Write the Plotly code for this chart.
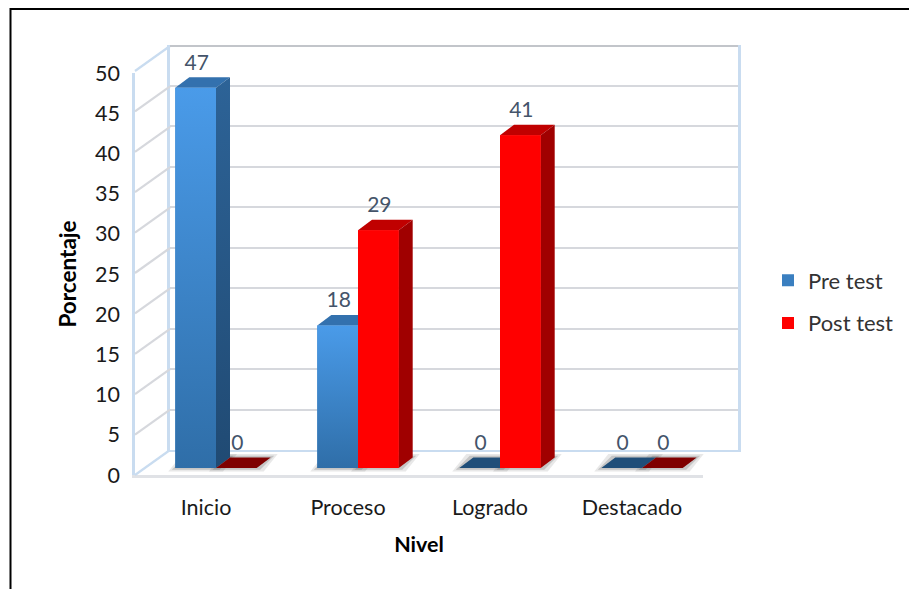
import plotly.graph_objects as go

categories = ["Inicio", "Proceso", "Logrado", "Destacado"]
pre_test = [47.06, 17.65, 0, 0]
post_test = [0, 29.41, 41.18, 0]
series_names = ["Pre test", "Post test"]
y_ticks = list(range(0, 55, 5))

W, H = 909, 589
FONT = "Lato"
TXT = "#1a1a1a"
LBL = "#44546a"
WALL = "#c9dcf0"
GRID = "#d6d8dd"

PX_X = 142.0   # px per category
PX_Y = 8.08    # px per value unit
GROUP0 = 216.0
BASE = 468.0
BAR_W = 40.7 / PX_X
DX, DY = 14 / PX_X, 10.5 / PX_Y


def dx(px0, px1):
    return [px0 / W, px1 / W]


def dy(px_bottom, px_top):
    return [1 - px_bottom / H, 1 - px_top / H]


fig = go.Figure()

# invisible carriers so that the wall and front axes are drawn
for xa, ya in (("x", "y"), ("x2", "y2")):
    fig.add_trace(go.Scatter(x=[None], y=[None], mode="markers", xaxis=xa, yaxis=ya,
                             showlegend=False, hoverinfo="skip"))


def poly(xs, ys, color=None, grad=None):
    t = dict(x=xs, y=ys, mode="lines", fill="toself", line=dict(width=0),
             xaxis="x3", yaxis="y3", showlegend=False, hoverinfo="skip")
    if grad:
        t["fillgradient"] = dict(type="vertical", colorscale=[[0, grad[0]], [1, grad[1]]])
        t["fillcolor"] = grad[1]
    else:
        t["fillcolor"] = color
    fig.add_trace(go.Scatter(**t))


# native bars (carry data and legend)
fig.add_trace(go.Bar(x=[0, 1, 2, 3], y=pre_test, name=series_names[0], marker_color="#3a7fc0",
                     marker_line_width=0, xaxis="x3", yaxis="y3", legendgroup="a",
                     hovertemplate="%{y}<extra>Pre test</extra>"))
fig.add_trace(go.Bar(x=[0, 1, 2, 3], y=post_test, name=series_names[1], marker_color="#ff0000",
                     marker_line_width=0, xaxis="x3", yaxis="y3", legendgroup="b",
                     hovertemplate="%{y}<extra>Post test</extra>"))

# side wall lines, from the front axis to the back wall
wall_x0, wall_x1 = -0.5 - 10 / PX_X, -0.5 + 25 / PX_X
for v in y_ticks:
    fig.add_trace(go.Scatter(x=[wall_x0, wall_x1], y=[v - 7 / PX_Y, v + 18 / PX_Y], mode="lines",
                             line=dict(color=WALL if v in (0, 50) else GRID, width=2.2),
                             xaxis="x3", yaxis="y3", showlegend=False, hoverinfo="skip"))

# top edge of the back wall
fig.add_trace(go.Scatter(x=[wall_x1, wall_x1 + len(categories)], y=[y_ticks[-1] + 18 / PX_Y] * 2, mode="lines",
                         line=dict(color="#c2c5ca", width=2.2),
                         xaxis="x3", yaxis="y3", showlegend=False, hoverinfo="skip"))

# floor shadows
for i in range(len(categories)):
    for off, v in ((-BAR_W, pre_test[i]), (0, post_test[i])):
        for grow, alpha in ((7, 0.14), (3.5, 0.25)):
            g = grow / PX_X
            gy = grow / PX_Y * 0.5
            x0, x1 = i + off - g, i + off + BAR_W + g
            poly([x0, x1, x1 + DX, x0 + DX, x0],
                 [-gy, -gy, DY + gy, DY + gy, -gy], f"rgba(90,90,90,{alpha})")

# 3D faces, computed from the values
for off, vals, top, zero, side, front in (
    (-BAR_W, pre_test, "#3371ae", "#1f4e79", ("#204a73", "#2d6397"), ("#2f6ea8", "#4a9be9")),
    (0, post_test, "#c00000", "#7f0000", ("#a00000", "#a00000"), ("#ff0000", "#ff0000")),
):
    for i, v in enumerate(vals):
        x0, x1 = i + off, i + off + BAR_W
        poly([x0, x1, x1 + DX, x0 + DX, x0], [v, v, v + DY, v + DY, v], top if v > 0 else zero)
        if v > 0:
            poly([x1, x1 + DX, x1 + DX, x1, x1], [0, DY, v + DY, v, 0], grad=side)
            poly([x0, x1, x1, x0, x0], [0, 0, v, v, 0], grad=front)

# data labels
for off, vals in ((-BAR_W / 2, pre_test), (BAR_W / 2, post_test)):
    fig.add_trace(go.Scatter(x=[i + off + 1 / PX_X for i in range(4)],
                             y=[v + 23.5 / PX_Y for v in vals],
                             text=[str(round(v)) for v in vals], mode="text",
                             textposition="middle center",
                             textfont=dict(family=FONT, size=21, color=LBL),
                             xaxis="x3", yaxis="y3", showlegend=False, hoverinfo="skip"))

axis_off = dict(visible=False, fixedrange=True)
fig.update_layout(
    width=W, height=H, autosize=False,
    margin=dict(l=0, r=0, t=0, b=0, pad=0),
    paper_bgcolor="white", plot_bgcolor="rgba(0,0,0,0)",
    font=dict(family=FONT, color=TXT),
    barmode="group", bargap=1 - 2 * BAR_W, bargroupgap=0,
    # back wall
    xaxis=dict(domain=dx(170, 738), range=[0, 4], anchor="y", showgrid=False, showticklabels=False,
               ticks="", showline=True, linecolor=WALL, linewidth=2, zeroline=False, automargin=False),
    yaxis=dict(domain=dy(450, 45), range=[0, 50], anchor="x", dtick=5, showgrid=True, gridcolor=GRID,
               gridwidth=2, showticklabels=False, ticks="", showline=True, mirror=True,
               linecolor=WALL, linewidth=2.5, zeroline=False, automargin=False),
    # front axes with the labels
    xaxis2=dict(domain=dx(135, 703), range=[-0.5, 3.5], anchor="y2", tickvals=[0, 1, 2, 3],
                ticktext=categories, ticks="", showgrid=False, showline=True, linecolor="#e0e2e6",
                linewidth=3, zeroline=False, tickfont=dict(family=FONT, size=21.5, color=TXT),
                ticklabelstandoff=11, automargin=False,
                title=dict(text="<b>Nivel</b>", font=dict(family=FONT, size=21.5, color="black"), standoff=19)),
    yaxis2=dict(domain=dy(475, 73), range=[0, 50], anchor="x2", tickvals=y_ticks, ticks="",
                showgrid=False, showline=True, linecolor=WALL, linewidth=2.5, zeroline=False,
                tickfont=dict(family=FONT, size=21.5, color=TXT), ticklabelstandoff=8, automargin=False,
                title=dict(text="<b>Porcentaje</b>", font=dict(family=FONT, size=22.5, color="black"), standoff=13)),
    # bars, mid-depth
    xaxis3=dict(domain=dx(100, 780), range=[(100 - GROUP0) / PX_X, (780 - GROUP0) / PX_X],
                anchor="y3", **axis_off),
    yaxis3=dict(domain=dy(500, 30), range=[(BASE - 500) / PX_Y, (BASE - 30) / PX_Y],
                anchor="x3", **axis_off),
    legend=dict(x=768 / W, y=1 - 302 / H, xanchor="left", yanchor="middle", tracegroupgap=11,
                font=dict(family=FONT, size=22, color="#333333"), bgcolor="rgba(0,0,0,0)",
                itemwidth=30),
    shapes=[dict(type="rect", xref="paper", yref="paper", x0=10.5 / W, x1=1.02, y0=-0.02, y1=1 - 9 / H,
                 line=dict(color="black", width=2), layer="below")],
)

fig.write_html("out.html", config={"displayModeBar": False},
               post_script="document.body.style.margin='0';document.body.style.overflow='hidden';")
